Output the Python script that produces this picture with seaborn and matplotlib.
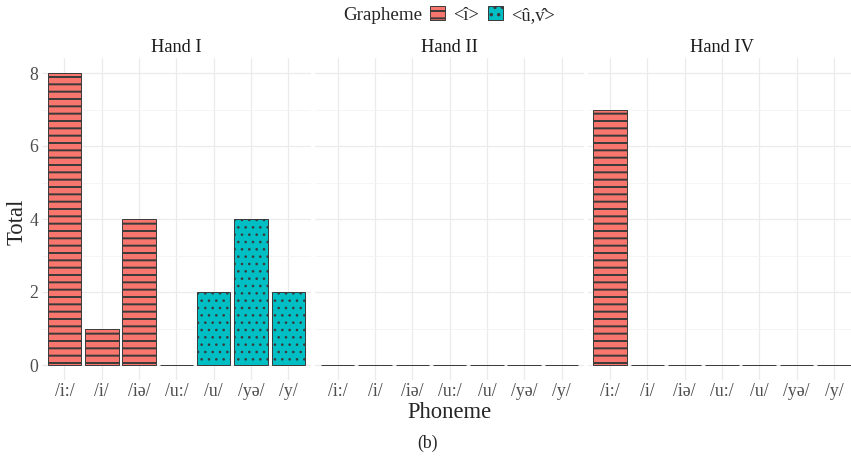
import matplotlib
matplotlib.use("Agg")
import matplotlib.pyplot as plt
import matplotlib.patches as mpatches
from matplotlib.ticker import MultipleLocator
import pandas as pd
import seaborn as sns

# data
hands = ["Hand I", "Hand II", "Hand IV"]
phonemes = ["/i:/", "/i/", "/iə/", "/u:/", "/u/", "/yə/", "/y/"]
grapheme_levels = ["<î>", "<û,v\u0302>"]
phoneme_grapheme = ["<î>", "<î>", "<î>", "<û,v\u0302>", "<û,v\u0302>", "<û,v\u0302>", "<û,v\u0302>"]
total_hand_i = [8, 1, 4, 0, 2, 4, 2]
total_hand_ii = [0, 0, 0, 0, 0, 0, 0]
total_hand_iv = [7, 0, 0, 0, 0, 0, 0]

colors = {"<î>": "#F8766D", "<û,v\u0302>": "#00BFC4"}
hatches = {"<î>": "--", "<û,v\u0302>": ".."}
hatch_lw = {"<î>": 1.6, "<û,v\u0302>": 0.9}

rows = []
for hand, totals in zip(hands, [total_hand_i, total_hand_ii, total_hand_iv]):
    for ph, gr, t in zip(phonemes, phoneme_grapheme, totals):
        rows.append({"Hand": hand, "Phoneme": ph, "Grapheme": gr, "Total": t})
df = pd.DataFrame(rows)

sns.set_theme(style="white")
plt.rcParams["font.family"] = ["Liberation Serif", "DejaVu Serif"]
plt.rcParams["hatch.linewidth"] = 1.6

DPI = 88
W, H = 851, 459
fig = plt.figure(figsize=(W / DPI, H / DPI), dpi=DPI)

edge = "#3a3a3a"
lefts = [42.1, 315.3, 587.6]
ax_w = 268.6
ax_bottom, ax_top = 379.6, 58.4


def style_patch(p, key):
    p.set_hatch(hatches[key])
    p.set_edgecolor(edge)
    if hasattr(p, "set_hatch_linewidth"):
        p.set_hatch_linewidth(hatch_lw[key])


for i, hand in enumerate(hands):
    ax = fig.add_axes([lefts[i] / W, 1 - ax_bottom / H, ax_w / W, (ax_bottom - ax_top) / H])
    sub = df[df["Hand"] == hand]
    sns.barplot(
        data=sub, x="Phoneme", y="Total", hue="Grapheme",
        order=phonemes, hue_order=grapheme_levels, palette=colors,
        dodge=False, width=0.9, errorbar=None, saturation=1,
        edgecolor=edge, linewidth=0.8, legend=False, ax=ax,
    )
    for p in ax.patches:
        fc = p.get_facecolor()
        style_patch(p, "<û,v\u0302>" if fc[2] > 0.6 else "<î>")

    ax.set_xlim(-0.6, 6.6)
    ax.set_ylim(-0.4, 8.4)
    ax.set_xlabel("")
    ax.set_ylabel("")
    ax.set_yticks([0, 2, 4, 6, 8])
    ax.yaxis.set_minor_locator(MultipleLocator(1))
    ax.set_axisbelow(True)
    ax.grid(True, which="major", color="#EBEBEB", linewidth=1.0)
    ax.grid(True, which="minor", axis="y", color="#F2F2F2", linewidth=0.6)
    for s in ax.spines.values():
        s.set_visible(False)
    ax.tick_params(axis="both", which="both", length=0, labelsize=14.5,
                   labelcolor="#4D4D4D", pad=3)
    if i > 0:
        ax.tick_params(axis="y", labelleft=False)
    ax.text(0.5, 1 + 11 / (ax_bottom - ax_top), hand, transform=ax.transAxes,
            ha="center", va="center", fontsize=15, color="#1A1A1A")

fig.text(17 / W, 1 - 222 / H, "Total", rotation=90, ha="center", va="center", fontsize=18.5)
fig.text(449 / W, 1 - 418 / H, "Phoneme", ha="center", va="baseline", fontsize=18.5)
fig.text(427 / W, 1 - 448 / H, "(b)", ha="center", va="baseline", fontsize=14.5)

# legend on top
fig.text(343 / W, 1 - 15 / H, "Grapheme", ha="left", va="center", fontsize=15.5)
handles = []
for g in grapheme_levels:
    h = mpatches.Patch(facecolor=colors[g], linewidth=0.8)
    style_patch(h, g)
    handles.append(h)
fig.legend(
    handles, grapheme_levels, ncol=2, loc="center left",
    bbox_to_anchor=(430 / W, 1 - 15 / H), frameon=False, fontsize=15,
    handlelength=0.8, handleheight=0.8, handletextpad=0.45, columnspacing=0.5,
    borderpad=0, borderaxespad=0,
)

fig.savefig("out.png", dpi=DPI)
